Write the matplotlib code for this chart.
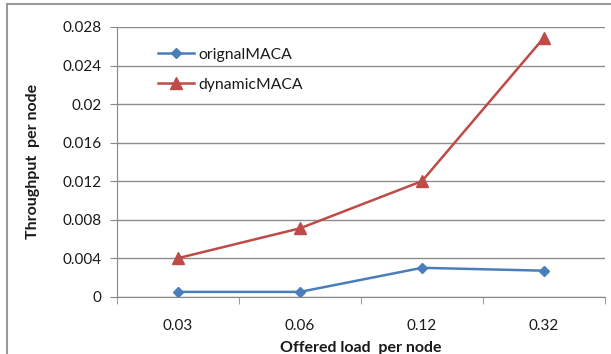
import numpy as np
import matplotlib.pyplot as plt
from matplotlib.lines import Line2D

plt.rcParams['font.family'] = ['Lato', 'DejaVu Sans']

# offered load categories and throughput per node for both schemes
loads = ['0.03', '0.06', '0.12', '0.32']
orignal = [0.0005, 0.0005, 0.0030, 0.0027]
dynamic = [0.0040, 0.0071, 0.0120, 0.0269]
yticks = [0, 0.004, 0.008, 0.012, 0.016, 0.02, 0.024, 0.028]
ytick_labels = ['0', '0.004', '0.008', '0.012', '0.016', '0.02', '0.024', '0.028']

blue = '#4a7ebb'
red = '#be4b48'
txt = '#1a1a1a'

fig = plt.figure(figsize=(6.11, 3.54), dpi=100)
W, H = 611, 354
ax = fig.add_axes([117/W, 1 - 296.7/H, (605-117)/W, (296.7-27)/H])

x = np.arange(len(loads))
ax.plot(x, orignal, color=blue, lw=1.8, marker='D', ms=5, label='orignalMACA')
ax.plot(x, dynamic, color=red, lw=1.8, marker='^', ms=9, label='dynamicMACA')

ax.set_xlim(-0.5, len(loads) - 0.5)
ax.set_ylim(0, 0.028)
ax.set_yticks(yticks)
ax.set_yticklabels(ytick_labels)
ax.set_xticks(x)
ax.set_xticklabels(loads)
ax.set_xticks(np.arange(-0.5, len(loads)), minor=True)
ax.tick_params(axis='x', which='major', length=0, pad=16, labelsize=11, labelcolor=txt)
ax.tick_params(axis='x', which='minor', length=5, color='#888888', direction='out')
ax.tick_params(axis='y', length=5, color='#888888', labelsize=11, pad=6, labelcolor=txt)
ax.grid(axis='y', color='#8c8c8c', lw=1)
ax.set_axisbelow(True)
for s in ['top', 'right']:
    ax.spines[s].set_visible(False)
ax.spines['left'].set_color('#888888')
ax.spines['bottom'].set_color('#888888')

ax.set_xlabel('Offered load  per node', fontweight='bold', fontsize=11.5, labelpad=6, color=txt)
ax.set_ylabel('Throughput  per node', fontweight='bold', fontsize=11.5, labelpad=16, color=txt)

leg = ax.legend(loc='upper left', bbox_to_anchor=(0.055, 0.975), frameon=False,
                fontsize=11.3, handlelength=2.3, labelspacing=1.0, handletextpad=0.25)
for t in leg.get_texts():
    t.set_color(txt)

# chart frame edges visible inside the window
fig.add_artist(Line2D([7/W, 7/W], [0, 1 - 4/H], color='#9a9a9a', lw=1.5))
fig.add_artist(Line2D([7/W, 1], [1 - 4/H, 1 - 4/H], color='#9a9a9a', lw=1.5))

fig.savefig('out.png', dpi=100)
